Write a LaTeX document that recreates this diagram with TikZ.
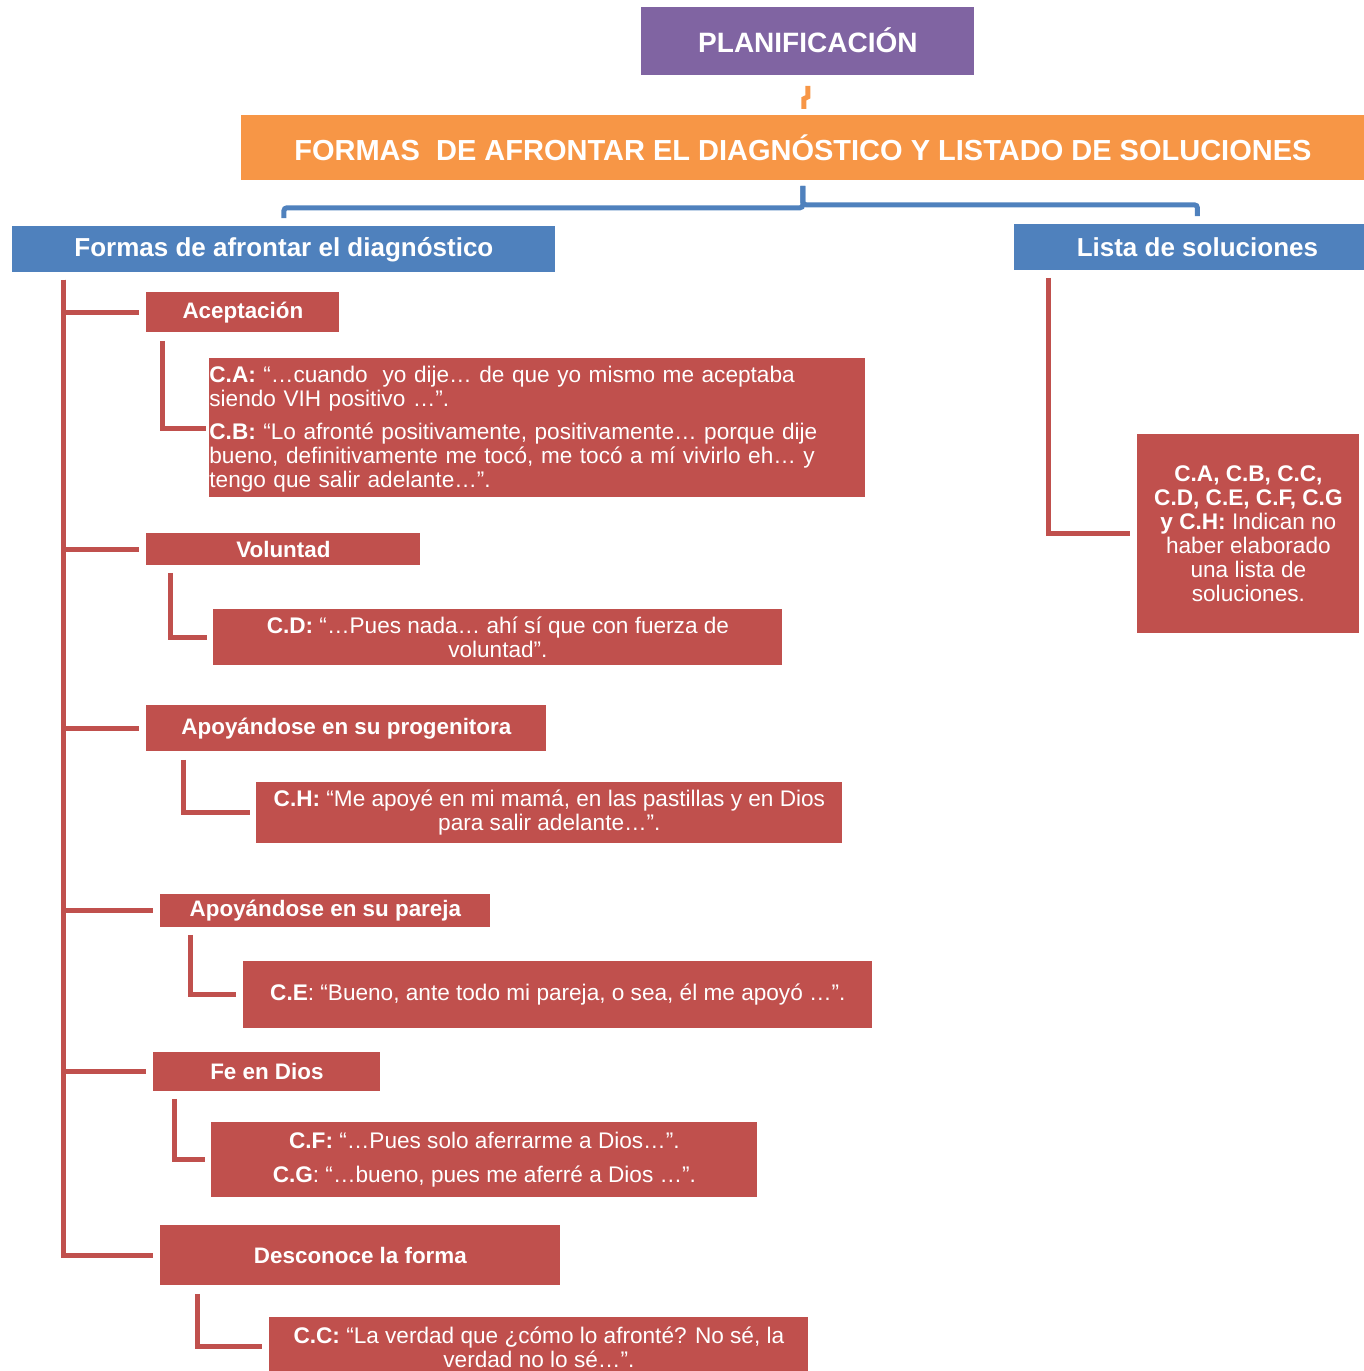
\documentclass[tikz,border=0pt]{standalone}
\usepackage{fontspec}
\setmainfont{Liberation Sans}
\usetikzlibrary{calc}
\definecolor{cPurple}{HTML}{8064A2}
\definecolor{cOrange}{HTML}{F79646}
\definecolor{cBlue}{HTML}{4F81BD}
\definecolor{cRed}{HTML}{C0504D}
\begin{document}
\begin{tikzpicture}[x=0.5pt,y=-0.5pt,
  box/.style={anchor=north west,inner sep=0pt,text=white,align=center},
  titlebox/.style={box,font=\bfseries\fontsize{14}{16}\selectfont},
  headbox/.style={box,font=\bfseries\fontsize{13}{15}\selectfont},
  labelbox/.style={box,fill=cRed,font=\bfseries\fontsize{11.2}{13}\selectfont},
  quotebox/.style={box,fill=cRed,font=\fontsize{11.3}{12}\selectfont},
  redln/.style={draw=cRed,line width=2.5pt},
  blueln/.style={draw=cBlue,line width=2.5pt,rounded corners=1.5pt},
  orangeln/.style={draw=cOrange,line width=2.5pt}]
\useasboundingbox (0,0) rectangle (1364,1371);
\clip (0,0) rectangle (1364,1371);

% top levels
\node[titlebox,fill=cPurple,minimum width=166.5pt,minimum height=35pt] (plan) at (641,5) {PLANIFICACIÓN};
\fill[white] (641,0) rectangle (974,7);
\node[headbox,fill=cOrange,minimum width=561.5pt,minimum height=32.5pt,font=\bfseries\fontsize{14.5}{16}\selectfont] (formas) at (241,115) {FORMAS\ \ DE AFRONTAR EL DIAGNÓSTICO Y LISTADO DE SOLUCIONES};
\node[headbox,fill=cBlue,minimum width=271.5pt,minimum height=23pt] (fdx) at (12,226) {Formas de afrontar el diagnóstico};
\node[headbox,fill=cBlue,minimum width=183pt,minimum height=23pt] (lista) at (1014,224) {Lista de soluciones};

% right branch
\node[quotebox,minimum width=111pt,minimum height=99.5pt] (sol) at (1137,434)
  {{\bfseries C.A, C.B, C.C,}\\{\bfseries C.D, C.E, C.F, C.G}\\{\bfseries y C.H:} Indican no\\haber elaborado\\una lista de\\soluciones.};

% left branch: categories
\node[labelbox,minimum width=96.5pt,minimum height=20pt] (acep) at (146,292) {Aceptación};
\node[labelbox,minimum width=137pt,minimum height=16pt] (vol) at (146,533) {Voluntad};
\node[labelbox,minimum width=200pt,minimum height=23pt] (prog) at (146,705) {Apoyándose\ en su progenitora};
\node[labelbox,minimum width=165pt,minimum height=16.5pt] (par) at (160,894) {Apoyándose\ en su pareja};
\node[labelbox,minimum width=113.5pt,minimum height=19.5pt] (fe) at (153,1052) {Fe en Dios};
\node[labelbox,minimum width=200pt,minimum height=30pt] (des) at (160,1225) {Desconoce\ la forma};

% left branch: quotes
\node[quotebox,align=left,text width=328pt,minimum height=68.5pt] (cab) at (209,360)
  {\textbf{C.A:} “…cuando\ \ yo dije… de que yo mismo me aceptaba\\
   siendo VIH positivo …”.\\[4.5pt]
   \textbf{C.B:} “Lo afronté positivamente, positivamente… porque dije\\
   bueno, definitivamente me tocó, me tocó a mí vivirlo eh… y\\
   tengo que salir adelante…”.};
\fill[cRed] (209,358) rectangle (865,362);
\node[quotebox,minimum width=284.5pt,minimum height=28pt] (cd) at (213,609)
  {\textbf{C.D:} “…Pues nada… ahí sí que con fuerza de\\voluntad”.};
\node[quotebox,minimum width=293pt,minimum height=30.5pt] (ch) at (256,782)
  {\textbf{C.H:} “Me apoyé en mi mamá, en las pastillas\ y en Dios\\para salir adelante…”.};
\node[quotebox,minimum width=314.5pt,minimum height=33.5pt] (ce) at (243,961)
  {\textbf{C.E}: “Bueno, ante todo mi pareja, o sea, él me apoyó …”.};
\node[quotebox,minimum width=273pt,minimum height=37.5pt] (cfg) at (211,1122)
  {\textbf{C.F:} “…Pues solo aferrarme a Dios…”.\\[5pt]\textbf{C.G}: “…bueno, pues me aferré a Dios …”.};
\node[quotebox,minimum width=269.5pt,minimum height=29.5pt] (cc) at (269,1317)
  {\textbf{C.C:} “La verdad que ¿cómo lo afronté? No sé, la\\verdad no lo sé…”.};

% connectors between the top levels
\draw[orangeln] ([yshift=-5pt]plan.south) -- ++(0,11) -- ++(-4,2) -- ++(0,10);
\draw[blueln] ([yshift=-2.5pt]formas.south) -- ++(0,22) -| ([yshift=4pt]fdx.north);
\draw[blueln] ([yshift=-2.5pt]formas.south) -- ++(0,19) -| ([yshift=4pt]lista.north);

% trunk of the left branch
\coordinate (trunk) at ([xshift=25.5pt,yshift=-3.5pt]fdx.south west);
\foreach \n in {acep,vol,prog,par,fe,des}
  \draw[redln,shorten >=3.5pt] (trunk) |- (\n.west);

% elbows from each category to its quotes
\draw[redln,shorten >=1.5pt] ([xshift=8pt,yshift=-4pt]acep.south west) |- (cab.west);
\draw[redln,shorten >=3pt] ([xshift=12pt,yshift=-3.5pt]vol.south west) |- (cd.west);
\draw[redln,shorten >=3pt] ([xshift=18.5pt,yshift=-4pt]prog.south west) |- (ch.west);
\draw[redln,shorten >=3.5pt] ([xshift=15pt,yshift=-3.5pt]par.south west) |- (ce.west);
\draw[redln,shorten >=3pt] ([xshift=10.5pt,yshift=-3.5pt]fe.south west) |- (cfg.west);
\draw[redln,shorten >=3.5pt] ([xshift=18.5pt,yshift=-4pt]des.south west) |- (cc.west);

% right branch elbow
\draw[redln,shorten >=3.5pt] ([xshift=17pt,yshift=-3.5pt]lista.south west) |- (sol.west);
\end{tikzpicture}
\end{document}
